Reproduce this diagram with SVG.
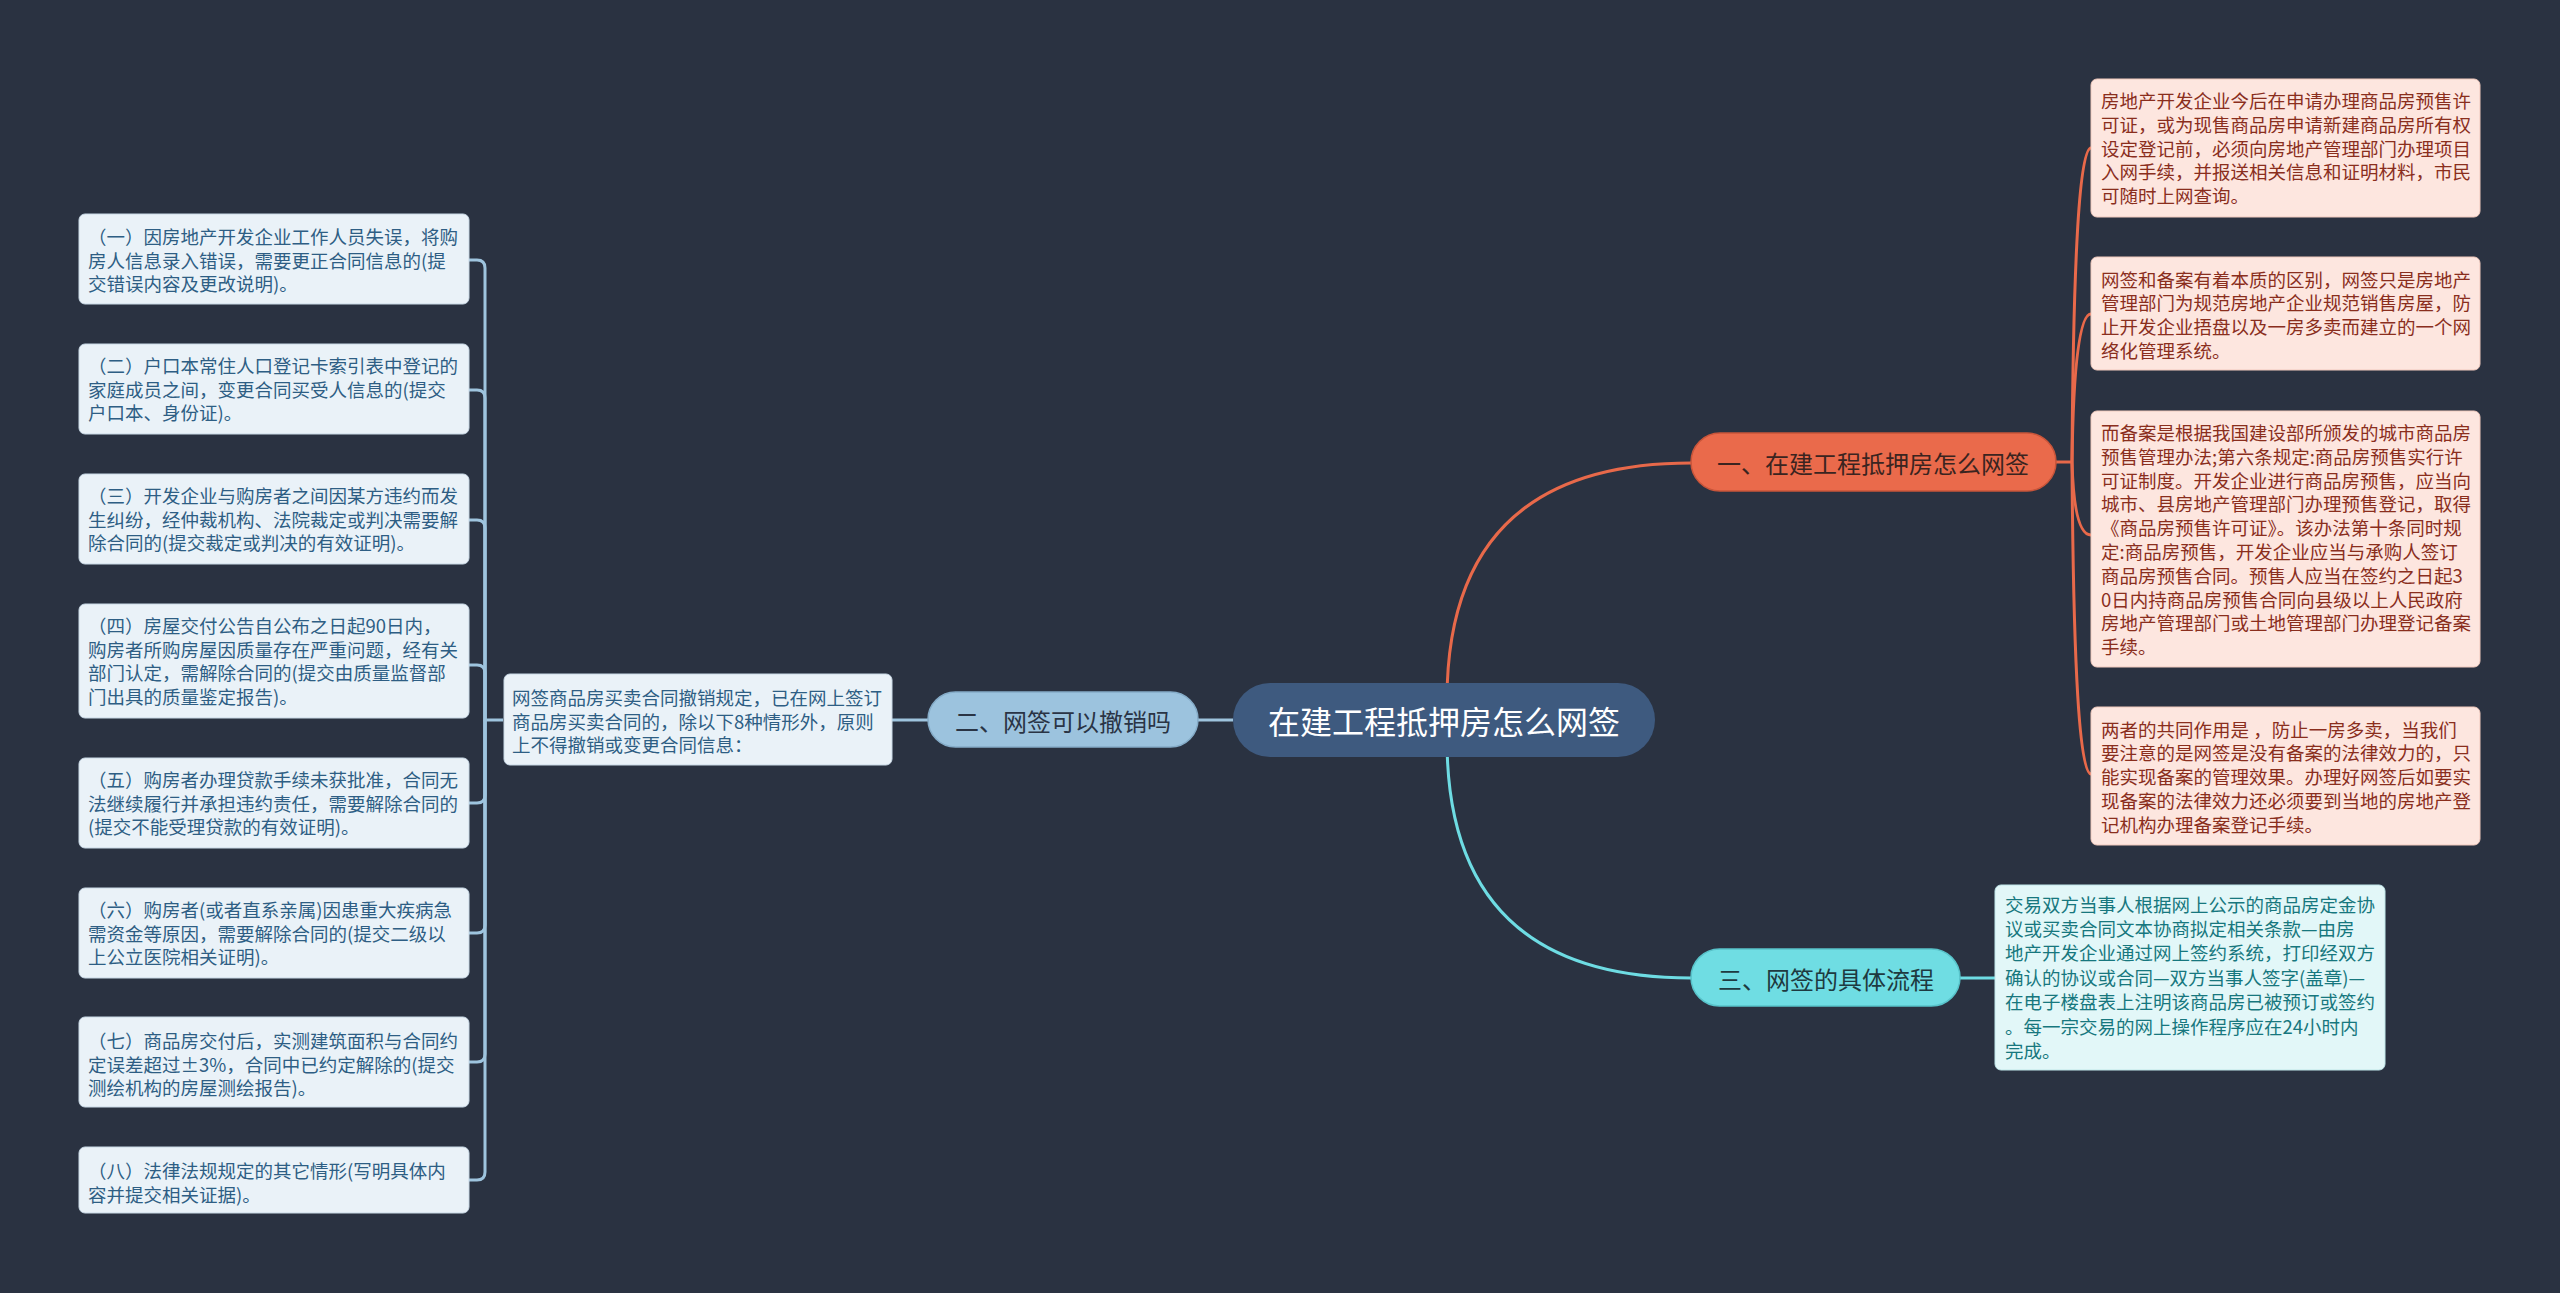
<svg xmlns="http://www.w3.org/2000/svg" width="2560" height="1293" viewBox="0 0 2560 1293">
<style>
text{font-family:"Noto Sans CJK SC","Noto Sans",sans-serif;}
.bl{fill:#EAF2F8;stroke:#c9d9e6;stroke-width:1;}
.bt{fill:#2E5E84;font-size:18.5px;}
.ol{fill:#FDE6DF;stroke:#f0c9bd;stroke-width:1;}
.ot{fill:#8A2E1D;font-size:18.5px;}
.cl{fill:#E2F7F8;stroke:#bfe6e9;stroke-width:1;}
.ct{fill:#17777E;font-size:18.5px;}
.cb{stroke:#9EC4DE;stroke-width:3;fill:none;}
.co{stroke:#E8694A;stroke-width:3;fill:none;}
.cc{stroke:#6EDCE3;stroke-width:3;fill:none;}
.nt{font-size:24px;text-anchor:middle;dominant-baseline:central;}
</style>
<rect width="2560" height="1293" fill="#2A3241"/>
<g id="connectors">
<path class="cb" d="M1233,720 H1198"/>
<path class="cb" d="M928,720 H892"/>
<path class="cb" d="M503,720 H485 V268 Q485,260 477,260 H468"/>
<path class="cb" d="M485,720 V398 Q485,390 477,390 H468"/>
<path class="cb" d="M485,720 V528 Q485,520 477,520 H468"/>
<path class="cb" d="M485,720 V673 Q485,665 477,665 H468"/>
<path class="cb" d="M485,720 V795 Q485,803 477,803 H468"/>
<path class="cb" d="M485,720 V925 Q485,933 477,933 H468"/>
<path class="cb" d="M485,720 V1054 Q485,1062 477,1062 H468"/>
<path class="cb" d="M485,720 V1172 Q485,1180 477,1180 H468"/>
<path class="co" d="M1447,700 Q1447,463 1691,463"/>
<path class="cc" d="M1447,740 Q1447,978 1691,978"/>
<path class="cc" d="M1960,978 H1995"/>
<path class="co" d="M2056,462 H2072"/>
<path class="co" d="M2072,462 Q2074,148 2091,148"/>
<path class="co" d="M2072,462 Q2074,314 2091,314"/>
<path class="co" d="M2072,462 Q2074,535 2091,535"/>
<path class="co" d="M2072,462 Q2074,774 2091,774"/>
</g>
<g id="central">
<rect x="1233" y="683" width="422" height="74" rx="37" fill="#3E5A7F"/>
<text x="1444" y="720" font-size="32px" fill="#FFFFFF" text-anchor="middle" dominant-baseline="central">在建工程抵押房怎么网签</text>
</g>
<g id="node-1">
<rect x="1691" y="433" width="365" height="58" rx="29" fill="#EA6A4B" stroke="#c9553a" stroke-width="1.5"/>
<text class="nt" x="1873" y="462" fill="#3A2420">一、在建工程抵押房怎么网签</text>
</g>
<g id="node-2">
<rect x="928" y="692" width="270" height="55" rx="27.5" fill="#9CC3DE" stroke="#85acc8" stroke-width="1.5"/>
<text class="nt" x="1063" y="720" fill="#2A3445">二、网签可以撤销吗</text>
</g>
<g id="node-3">
<rect x="1691" y="949" width="269" height="57" rx="28.5" fill="#6FDDE3" stroke="#58c3ca" stroke-width="1.5"/>
<text class="nt" x="1826" y="978" fill="#1E3A40">三、网签的具体流程</text>
</g>
<g id="mid-box">
<rect class="bl" x="504" y="674" width="388" height="91" rx="6"/>
<text class="bt"><tspan x="512" y="705">网签商品房买卖合同撤销规定，已在网上签订</tspan><tspan x="512" y="728.5">商品房买卖合同的，除以下8种情形外，原则</tspan><tspan x="512" y="752">上不得撤销或变更合同信息：</tspan></text>
</g>
<g id="left-1">
<rect class="bl" x="79" y="214" width="390" height="90" rx="6"/>
<text class="bt"><tspan x="88" y="244">（一）因房地产开发企业工作人员失误，将购</tspan><tspan x="88" y="267.5">房人信息录入错误，需要更正合同信息的(提</tspan><tspan x="88" y="291">交错误内容及更改说明)。</tspan></text>
</g>
<g id="left-2">
<rect class="bl" x="79" y="344" width="390" height="90" rx="6"/>
<text class="bt"><tspan x="88" y="373">（二）户口本常住人口登记卡索引表中登记的</tspan><tspan x="88" y="396.5">家庭成员之间，变更合同买受人信息的(提交</tspan><tspan x="88" y="420">户口本、身份证)。</tspan></text>
</g>
<g id="left-3">
<rect class="bl" x="79" y="474" width="390" height="90" rx="6"/>
<text class="bt"><tspan x="88" y="503">（三）开发企业与购房者之间因某方违约而发</tspan><tspan x="88" y="526.5">生纠纷，经仲裁机构、法院裁定或判决需要解</tspan><tspan x="88" y="550">除合同的(提交裁定或判决的有效证明)。</tspan></text>
</g>
<g id="left-4">
<rect class="bl" x="79" y="604" width="390" height="114" rx="6"/>
<text class="bt"><tspan x="88" y="633">（四）房屋交付公告自公布之日起90日内，</tspan><tspan x="88" y="656.5">购房者所购房屋因质量存在严重问题，经有关</tspan><tspan x="88" y="680">部门认定，需解除合同的(提交由质量监督部</tspan><tspan x="88" y="703.5">门出具的质量鉴定报告)。</tspan></text>
</g>
<g id="left-5">
<rect class="bl" x="79" y="758" width="390" height="90" rx="6"/>
<text class="bt"><tspan x="88" y="787">（五）购房者办理贷款手续未获批准，合同无</tspan><tspan x="88" y="810.5">法继续履行并承担违约责任，需要解除合同的</tspan><tspan x="88" y="834">(提交不能受理贷款的有效证明)。</tspan></text>
</g>
<g id="left-6">
<rect class="bl" x="79" y="888" width="390" height="90" rx="6"/>
<text class="bt"><tspan x="88" y="917">（六）购房者(或者直系亲属)因患重大疾病急</tspan><tspan x="88" y="940.5">需资金等原因，需要解除合同的(提交二级以</tspan><tspan x="88" y="964">上公立医院相关证明)。</tspan></text>
</g>
<g id="left-7">
<rect class="bl" x="79" y="1017" width="390" height="90" rx="6"/>
<text class="bt"><tspan x="88" y="1048">（七）商品房交付后，实测建筑面积与合同约</tspan><tspan x="88" y="1071.5">定误差超过±3%，合同中已约定解除的(提交</tspan><tspan x="88" y="1095">测绘机构的房屋测绘报告)。</tspan></text>
</g>
<g id="left-8">
<rect class="bl" x="79" y="1147" width="390" height="66" rx="6"/>
<text class="bt"><tspan x="88" y="1178">（八）法律法规规定的其它情形(写明具体内</tspan><tspan x="88" y="1201.5">容并提交相关证据)。</tspan></text>
</g>
<g id="right-1">
<rect class="ol" x="2091" y="79" width="389" height="138" rx="6"/>
<text class="ot"><tspan x="2101" y="108">房地产开发企业今后在申请办理商品房预售许</tspan><tspan x="2101" y="131.8">可证，或为现售商品房申请新建商品房所有权</tspan><tspan x="2101" y="155.6">设定登记前，必须向房地产管理部门办理项目</tspan><tspan x="2101" y="179.4">入网手续，并报送相关信息和证明材料，市民</tspan><tspan x="2101" y="203.2">可随时上网查询。</tspan></text>
</g>
<g id="right-2">
<rect class="ol" x="2091" y="257" width="389" height="113" rx="6"/>
<text class="ot"><tspan x="2101" y="286.5">网签和备案有着本质的区别，网签只是房地产</tspan><tspan x="2101" y="310.3">管理部门为规范房地产企业规范销售房屋，防</tspan><tspan x="2101" y="334.1">止开发企业捂盘以及一房多卖而建立的一个网</tspan><tspan x="2101" y="357.9">络化管理系统。</tspan></text>
</g>
<g id="right-3">
<rect class="ol" x="2091" y="411" width="389" height="256" rx="6"/>
<text class="ot"><tspan x="2101" y="440">而备案是根据我国建设部所颁发的城市商品房</tspan><tspan x="2101" y="463.8">预售管理办法;第六条规定:商品房预售实行许</tspan><tspan x="2101" y="487.6">可证制度。开发企业进行商品房预售，应当向</tspan><tspan x="2101" y="511.4">城市、县房地产管理部门办理预售登记，取得</tspan><tspan x="2101" y="535.2">《商品房预售许可证》。该办法第十条同时规</tspan><tspan x="2101" y="559">定:商品房预售，开发企业应当与承购人签订</tspan><tspan x="2101" y="582.8">商品房预售合同。预售人应当在签约之日起3</tspan><tspan x="2101" y="606.6">0日内持商品房预售合同向县级以上人民政府</tspan><tspan x="2101" y="630.4">房地产管理部门或土地管理部门办理登记备案</tspan><tspan x="2101" y="654.2">手续。</tspan></text>
</g>
<g id="right-4">
<rect class="ol" x="2091" y="707" width="389" height="138" rx="6"/>
<text class="ot"><tspan x="2101" y="736.5">两者的共同作用是 ，防止一房多卖，当我们</tspan><tspan x="2101" y="760.3">要注意的是网签是没有备案的法律效力的，只</tspan><tspan x="2101" y="784.1">能实现备案的管理效果。办理好网签后如要实</tspan><tspan x="2101" y="807.9">现备案的法律效力还必须要到当地的房地产登</tspan><tspan x="2101" y="831.7">记机构办理备案登记手续。</tspan></text>
</g>
<g id="right-5">
<rect class="cl" x="1995" y="885" width="390" height="185" rx="6"/>
<text class="ct"><tspan x="2005" y="911.5">交易双方当事人根据网上公示的商品房定金协</tspan><tspan x="2005" y="935.9">议或买卖合同文本协商拟定相关条款—由房</tspan><tspan x="2005" y="960.3">地产开发企业通过网上签约系统，打印经双方</tspan><tspan x="2005" y="984.7">确认的协议或合同—双方当事人签字(盖章)—</tspan><tspan x="2005" y="1009.1">在电子楼盘表上注明该商品房已被预订或签约</tspan><tspan x="2005" y="1033.5">。每一宗交易的网上操作程序应在24小时内</tspan><tspan x="2005" y="1057.9">完成。</tspan></text>
</g>
</svg>
